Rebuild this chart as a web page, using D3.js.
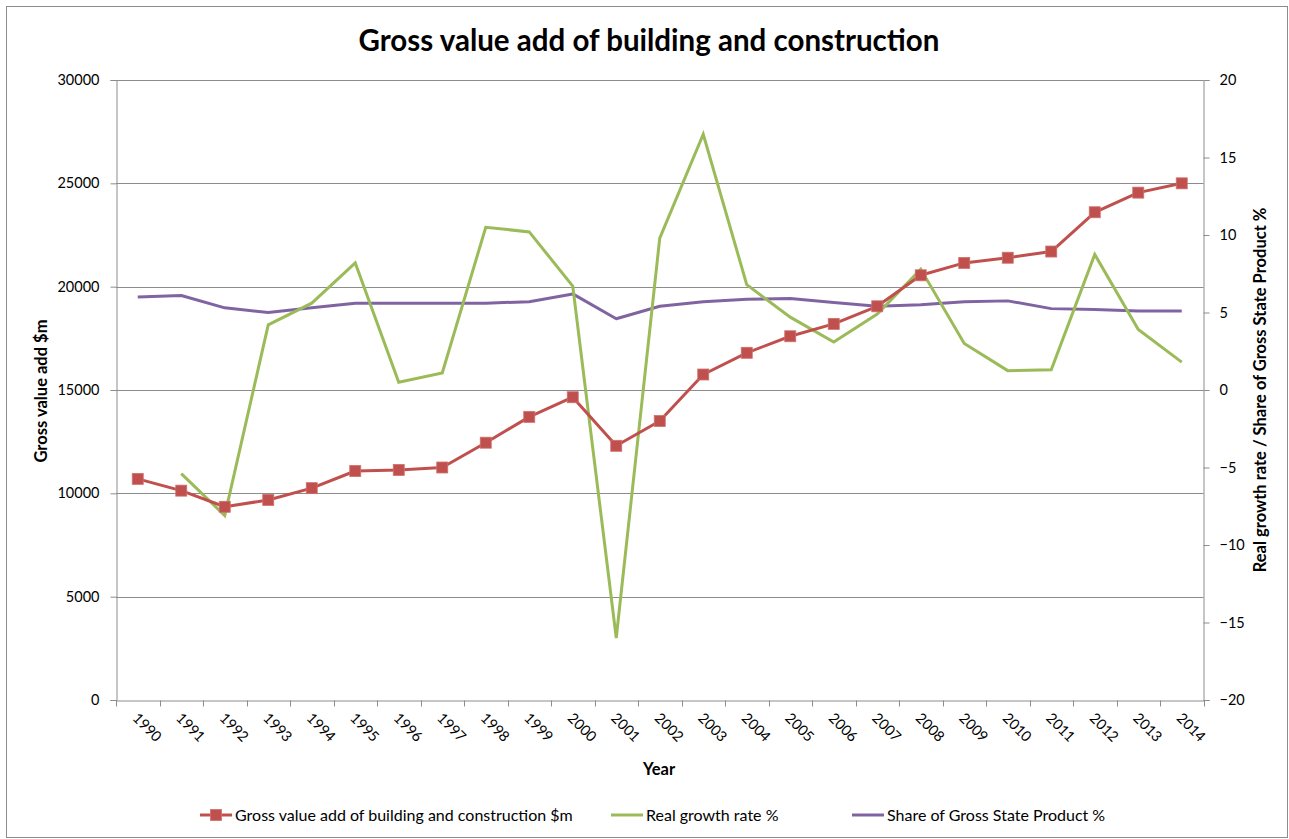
<!DOCTYPE html>
<html>
<head>
<meta charset="utf-8">
<script src="https://cdn.jsdelivr.net/npm/d3@7"></script>
<style>
  html, body { margin: 0; padding: 0; background: #fff; }
  svg { display: block; }
  text { font-family: Lato, "Open Sans", sans-serif; fill: #000; }
</style>
</head>
<body>
<svg id="chart" width="1289" height="839"></svg>
<script>
const years = ["1990","1991","1992","1993","1994","1995","1996","1997","1998","1999","2000","2001","2002","2003","2004","2005","2006","2007","2008","2009","2010","2011","2012","2013","2014"];
const grossValueAdd = [10700,10130,9350,9680,10250,11080,11130,11250,12450,13700,14650,12300,13500,15750,16800,17600,18200,19050,20550,21150,21400,21700,23600,24550,25000];
const realGrowth = [null,-5.4,-8.1,4.2,5.6,8.2,0.5,1.1,10.5,10.2,6.7,-16.0,9.8,16.5,6.8,4.7,3.1,4.9,7.8,3.0,1.25,1.3,8.75,3.9,1.8];
const gspShare = [6.0,6.1,5.3,5.0,5.3,5.6,5.6,5.6,5.6,5.7,6.2,4.6,5.4,5.7,5.85,5.9,5.65,5.4,5.5,5.7,5.75,5.25,5.2,5.1,5.1];
const leftTicks = [0,5000,10000,15000,20000,25000,30000];
const rightTicks = [-20,-15,-10,-5,0,5,10,15,20];
const seriesNames = ["Gross value add of building and construction $m","Real growth rate %","Share of Gross State Product %"];
const colors = ["#C0504D","#9BBB59","#8064A2"];

(function(){
const svg = d3.select("#chart");
const W = 1289, H = 839;
const pLeft = 116, pRight = 1203.5, pTop = 80, pBottom = 700;
const grid = "#8c8c8c";
const tickFont = "14.5px";

// outer border
svg.append("rect").attr("x",6.5).attr("y",6.5).attr("width",W-8).attr("height",H-8)
  .attr("fill","none").attr("stroke","#8c8c8c").attr("stroke-width",1);

const x = d3.scaleBand().domain(years).range([pLeft, pRight]).padding(0);
const yL = d3.scaleLinear().domain([0,30000]).range([pBottom, pTop]);
const yR = d3.scaleLinear().domain([-20,20]).range([pBottom, pTop]);
const cx = d => x(d) + x.bandwidth()/2;

// gridlines
svg.append("g").selectAll("line").data(leftTicks.filter(t=>t>0)).join("line")
  .attr("x1",pLeft).attr("x2",pRight).attr("y1",d=>Math.round(yL(d))+0.5).attr("y2",d=>Math.round(yL(d))+0.5)
  .attr("stroke",grid).attr("stroke-width",1);

// left axis
const gL = svg.append("g").attr("transform",`translate(${pLeft+0.5},0)`)
  .call(d3.axisLeft(yL).tickValues(leftTicks).tickSize(6).tickPadding(11).tickFormat(d3.format("d")));
gL.select(".domain").attr("stroke",grid);
gL.selectAll(".tick line").attr("stroke",grid);
gL.selectAll("text").style("font-size",tickFont).style("font-family","Lato, sans-serif");

// right axis
const gR = svg.append("g").attr("transform",`translate(${pRight},0)`)
  .call(d3.axisRight(yR).tickValues(rightTicks).tickSize(6).tickPadding(10).tickFormat(d3.format("d")));
gR.select(".domain").attr("stroke",grid);
gR.selectAll(".tick line").attr("stroke",grid);
gR.selectAll("text").style("font-size",tickFont).style("font-family","Lato, sans-serif");

// bottom axis
const gB = svg.append("g").attr("transform",`translate(0,${pBottom+0.5})`)
  .call(d3.axisBottom(x).tickSize(0).tickFormat(""));
gB.select(".domain").attr("stroke",grid);
gB.selectAll(".tick").remove();
const bounds = years.map(y => x(y)).concat([x(years[years.length-1]) + x.bandwidth()]);
gB.selectAll("line.tk").data(bounds).join("line").attr("class","tk")
  .attr("x1",d=>Math.round(d)+0.5).attr("x2",d=>Math.round(d)+0.5).attr("y1",0).attr("y2",6).attr("stroke",grid);
svg.append("g").selectAll("text").data(years).join("text")
  .attr("transform", d => `translate(${cx(d)-6},${pBottom+19}) rotate(45)`)
  .attr("text-anchor","start").style("font-size",tickFont).text(d => d);

// lines
const lineL = d3.line().x((d,i)=>cx(years[i])).y(d=>yL(d));
const lineR = d3.line().defined(d=>d!==null).x((d,i)=>cx(years[i])).y(d=>yR(d));

svg.append("path").datum(gspShare).attr("d",lineR).attr("fill","none")
  .attr("stroke",colors[2]).attr("stroke-width",3).attr("stroke-linejoin","round");
svg.append("path").datum(realGrowth).attr("d",lineR).attr("fill","none")
  .attr("stroke",colors[1]).attr("stroke-width",3).attr("stroke-linejoin","miter");
svg.append("path").datum(grossValueAdd).attr("d",lineL).attr("fill","none")
  .attr("stroke",colors[0]).attr("stroke-width",3).attr("stroke-linejoin","round");
const ms = 11;
svg.append("g").selectAll("rect").data(grossValueAdd).join("rect")
  .attr("x",(d,i)=>cx(years[i])-ms/2).attr("y",d=>yL(d)-ms/2).attr("width",ms).attr("height",ms)
  .attr("fill",colors[0]).attr("stroke","#d0706d").attr("stroke-width",0.8);

// title
svg.append("text").attr("x",649).attr("y",51).attr("text-anchor","middle")
  .style("font-size","29.5px").style("font-weight","bold").text("Gross value add of building and construction");

// axis titles
svg.append("text").attr("transform",`translate(47,391) rotate(-90)`).attr("text-anchor","middle")
  .style("font-size","16.5px").style("font-weight","bold").text("Gross value add $m");
svg.append("text").attr("transform",`translate(1266,390) rotate(-90)`).attr("text-anchor","middle")
  .style("font-size","16.5px").style("font-weight","bold").text("Real growth rate / Share of Gross State Product %");
svg.append("text").attr("x",659).attr("y",775).attr("text-anchor","middle")
  .style("font-size","16.5px").style("font-weight","bold").text("Year");

// legend
const legX = [200, 611, 852];
const ly = 815;
const leg = svg.append("g");
seriesNames.forEach((n,i) => {
  const g = leg.append("g");
  g.append("line").attr("x1",legX[i]).attr("x2",legX[i]+32).attr("y1",ly).attr("y2",ly)
    .attr("stroke",colors[i]).attr("stroke-width",3);
  if (i===0) g.append("rect").attr("x",legX[i]+16-ms/2).attr("y",ly-ms/2).attr("width",ms).attr("height",ms)
    .attr("fill",colors[0]).attr("stroke","#d0706d").attr("stroke-width",0.8);
  g.append("text").attr("x",legX[i]+35).attr("y",ly+5.5).style("font-size","16px").text(n);
});
})();
</script>
</body>
</html>
